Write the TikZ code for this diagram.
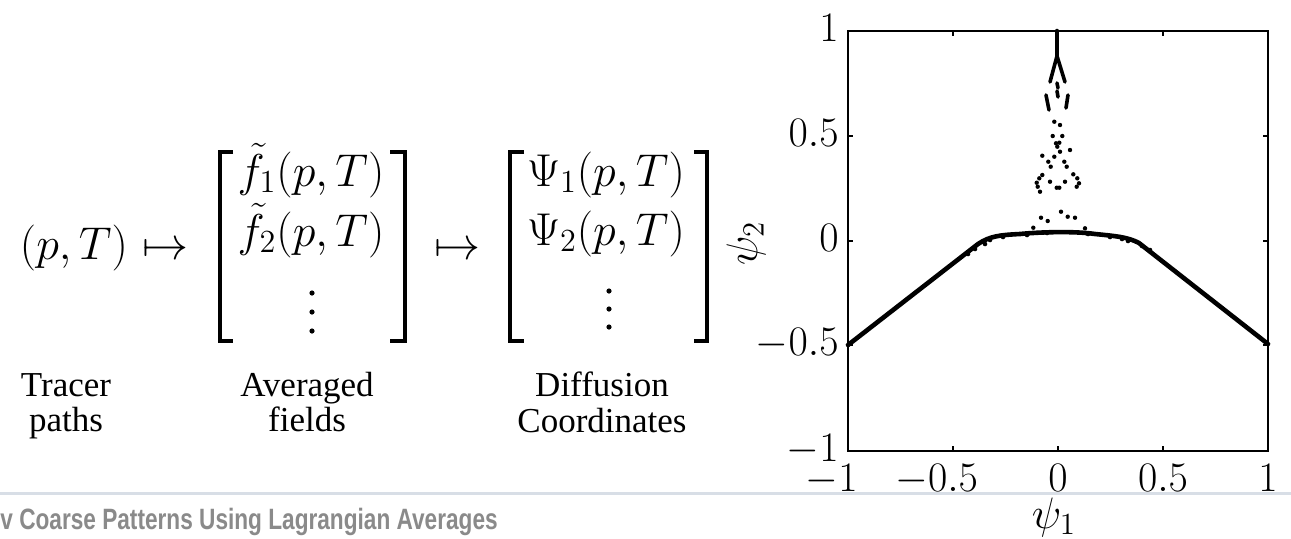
\RequirePackage{fix-cm}
\documentclass[tikz,border=0pt]{standalone}
\usepackage{fontspec}
\newfontfamily\footfont[FakeStretch=0.77]{Liberation Sans}
\newfontfamily\lblfont{Liberation Serif}
\definecolor{footgray}{HTML}{8A8A8A}
\definecolor{footline}{HTML}{D8DEE6}
\tikzset{
  mth/.style={inner sep=0pt, anchor=base, font=\fontsize{23}{27}\selectfont},
  axlbl/.style={inner sep=0pt, anchor=base, font=\fontsize{22}{26}\selectfont},
  lbl/.style={inner sep=0pt, anchor=base, font=\lblfont\fontsize{17.5}{20}\selectfont},
  ticklbl/.style={inner sep=0pt, font=\fontsize{21}{25}\selectfont},
  brk/.style={line width=2.3pt},
  axisline/.style={line width=0.6pt},
  curve/.style={line width=2.3pt, line join=round, line cap=round},
  branch/.style={line width=1.8pt, line cap=round},
  foot/.style={inner sep=0pt, anchor=base west, text=footgray, font=\footfont\bfseries\fontsize{14.7}{17}\selectfont},
}
\begin{document}
\begin{tikzpicture}[x=0.5pt,y=-0.5pt]
\useasboundingbox (0,0) rectangle (1291,538);
% ---- left formula ----
\node[mth] (pt) at (74,259) {$(p,T)$};
\node[mth] (map1) at (165,259) {$\mapsto$};
\node[mth] (f1) at (311,186) {$\tilde{f}_1(p,T)$};
\node[mth] (f2) at (311,246) {$\tilde{f}_2(p,T)$};
\foreach \y in {293,312,331} \fill (312,\y) circle (2.6);
\draw[brk] (233,152) -- (220,152) -- (220,341) -- (233,341);
\draw[brk] (390,152) -- (405,152) -- (405,341) -- (390,341);
\node[mth] (map2) at (457,259) {$\mapsto$};
\node[mth] (p1) at (606,186) {$\Psi_1(p,T)$};
\node[mth] (p2) at (606,245) {$\Psi_2(p,T)$};
\foreach \y in {291,309,327} \fill (609,\y) circle (2.6);
\draw[brk] (524,152) -- (510,152) -- (510,341) -- (524,341);
\draw[brk] (694,152) -- (707,152) -- (707,341) -- (694,341);
% labels
\node[lbl] (l1a) at (66,396) {Tracer};
\node[lbl] (l1b) at (66,431) {paths};
\node[lbl] (l2a) at (307,396) {Averaged};
\node[lbl] (l2b) at (307,431) {fields};
\node[lbl] (l3a) at (602,396) {Diffusion};
\node[lbl] (l3b) at (602,432) {Coordinates};
% ---- plot ----
\draw[axisline] (848,31) rectangle (1268,451);
\foreach \x in {953,1058,1163} {\draw[axisline] (\x,451) -- (\x,446); \draw[axisline] (\x,31) -- (\x,36);}
\foreach \y in {136,241,345} {\draw[axisline] (848,\y) -- (853,\y); \draw[axisline] (1268,\y) -- (1263,\y);}
\node[ticklbl, anchor=base east] (yt1) at (839,41) {$1$};
\node[ticklbl, anchor=base east] (yt2) at (839,146) {$0.5$};
\node[ticklbl, anchor=base east] (yt3) at (839,251) {$0$};
\node[ticklbl, anchor=base east] (yt4) at (839,355) {$-0.5$};
\node[ticklbl, anchor=base east] (yt5) at (839,461) {$-1$};
\node[ticklbl, anchor=base] (xt1) at (848,491) {$\llap{$-$}1$};
\node[ticklbl, anchor=base] (xt2) at (953,491) {$\llap{$-$}0.5$};
\node[ticklbl, anchor=base] (xt3) at (1058,491) {$0$};
\node[ticklbl, anchor=base] (xt4) at (1163,491) {$0.5$};
\node[ticklbl, anchor=base] (xt5) at (1268,491) {$1$};
% main curve
\draw[curve] (848,345) -- (978,244) .. controls (990,236) and (1000,235) .. (1020,234)
  .. controls (1040,232) and (1075,231) .. (1095,234)
  .. controls (1115,236) and (1128,237) .. (1139,243) -- (1268,344);
\foreach \p in {(990,240),(1003,237),(1027,235),(1047,233),(1088,234),(1110,237),(1122,239),(1142,246),(1150,250),(975,249),(968,254),(985,244),(1128,241)}
  \fill \p circle (2.3);
% spike and branches
\draw[curve] (1057,31) -- (1057,58);
\draw[branch] (1057,56) -- (1050,82);
\draw[branch] (1057,56) -- (1065,82);
\draw[branch] (1057,83) -- (1058,88);
\draw[branch] (1057,91) -- (1058,97);
\draw[branch] (1046,95) -- (1049,110);
\draw[branch] (1068,95) -- (1066,108);
\foreach \p in {(1054.3,121.7),(1060,125),(1052.7,136),(1062.3,136),(1056,143.3),(1059.3,142.7),
  (1057.3,146.7),(1060,151.7),(1070,150),(1054.3,156.7),(1042.3,155.7),(1050.7,166.7),
  (1064.3,161.7),(1066.7,166.7),(1048.3,161.7),(1042.3,175),(1039.3,178.3),(1036.7,182.7),
  (1037.7,186.7),(1040,191.7),(1050,181.7),(1065,181.7),(1056.7,187.7),(1059.3,187.7),
  (1073.3,174.3),(1077.3,178.3),(1079,183.3),(1076.7,186.7),(1061,211.7),(1041,217.7),
  (1047.7,221),(1067.7,216.7),(1075,217.7),(1033.3,227.7),(1085,228.3)}
  \fill \p circle (2.2);
\node[axlbl, rotate=90] (ylab) at (757,243) {$\psi_2$};
% ---- footer ----
\fill[white] (0,494) rectangle (1291,538);
\draw[footline, line width=1.5pt] (0,493) -- (1291,493);
\node[foot] (title) at (0,529) {v Coarse Patterns Using Lagrangian Averages};
\node[axlbl] (xlab) at (1054,528) {$\psi_1$};
\end{tikzpicture}
\end{document}
